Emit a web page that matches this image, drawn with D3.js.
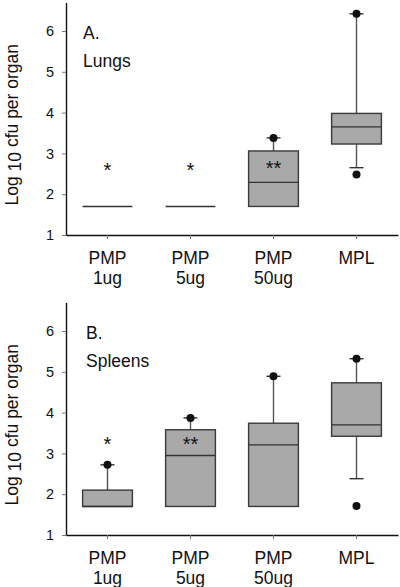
<!DOCTYPE html>
<html>
<head>
<meta charset="utf-8">
<script src="https://cdn.jsdelivr.net/npm/d3@7"></script>
<style>
  html, body { margin: 0; padding: 0; background: #fff; }
  svg { display: block; }
  text { font-family: Arial, "Liberation Sans", sans-serif; fill: #111; }
</style>
</head>
<body>
<svg id="chart" width="400" height="587"></svg>
<script>
// ---------- data ----------
const groups = ["PMP 1ug", "PMP 5ug", "PMP 50ug", "MPL"];
const tickLine1 = ["PMP", "PMP", "PMP", "MPL"];
const tickLine2 = ["1ug", "5ug", "50ug", ""];
const yTicks = [1, 2, 3, 4, 5, 6];

// Lungs (panel A)
const lungsQ1      = [1.7, 1.7, 1.7, 3.23];
const lungsMedian  = [1.7, 1.7, 2.29, 3.65];
const lungsQ3      = [1.7, 1.7, 3.06, 3.98];
const lungsWhiskLo = [1.7, 1.7, 1.7, 2.65];
const lungsWhiskHi = [1.7, 1.7, 3.38, 6.42];
const lungsOutliers = [[], [], [3.38], [6.42, 2.48]];
const lungsStars = ["*", "*", "**", ""];
const lungsStarPos = [2.65, 2.65, 2.68, 0];

// Spleens (panel B)
const spleenQ1      = [1.7, 1.7, 1.7, 3.42];
const spleenMedian  = [1.7, 2.95, 3.21, 3.70];
const spleenQ3      = [2.1, 3.58, 3.74, 4.73];
const spleenWhiskLo = [1.7, 1.7, 1.7, 2.38];
const spleenWhiskHi = [2.72, 3.87, 4.89, 5.32];
const spleenOutliers = [[2.72], [3.87], [4.89], [5.32, 1.71]];
const spleenStars = ["*", "**", "", ""];
const spleenStarPos = [3.29, 3.29, 0, 0];

// ---------- drawing ----------
const svg = d3.select("#chart");
const x = d3.scaleBand().domain(groups).range([66, 398]).padding(0);
const boxW = x.step() * 0.6;
const capW = 14;

function panel(opt) {
  const y = d3.scaleLinear().domain([1, 6.7]).range([opt.bottom, opt.bottom - 5.7 * 40.8]);
  const g = svg.append("g");

  // y axis
  const ya = g.append("g").attr("transform", "translate(66,0)")
    .call(d3.axisLeft(y).tickValues(yTicks).tickFormat(d3.format("d")).tickSize(4).tickSizeOuter(0).tickPadding(8));
  ya.select(".domain").attr("stroke", "#111").attr("stroke-width", 1.4);
  ya.selectAll(".tick line").attr("stroke", "#777");
  ya.selectAll(".tick text").attr("font-size", 14.5).attr("font-family", "Arial, 'Liberation Sans', sans-serif").attr("fill", "#111");

  // x axis
  const xa = g.append("g").attr("transform", `translate(0,${y(1)})`)
    .call(d3.axisBottom(x).tickSize(4).tickSizeOuter(0).tickFormat(""));
  xa.select(".domain").attr("stroke", "#111").attr("stroke-width", 1.4);
  xa.selectAll(".tick line").attr("stroke", "#777");

  const lbl = g.append("g").selectAll("text").data(groups).join("text")
    .attr("x", d => x(d) + x.bandwidth() / 2)
    .attr("text-anchor", "middle")
    .attr("font-size", 17.5);
  lbl.append("tspan").attr("x", d => x(d) + x.bandwidth() / 2).attr("y", y(1) + 28.5).text((d, i) => tickLine1[i]);
  lbl.append("tspan").attr("x", d => x(d) + x.bandwidth() / 2).attr("y", y(1) + 49).text((d, i) => tickLine2[i]);

  // y label
  const ymid = (y(1) + y(6.7)) / 2 + 6;
  const yl = g.append("text").attr("transform", `translate(18,${ymid}) rotate(-90)`)
    .attr("text-anchor", "middle").attr("font-size", 17.5);
  yl.append("tspan").text("Log ");
  yl.append("tspan").attr("dy", 3).text("10");
  yl.append("tspan").attr("dy", -3).text(" cfu per organ");

  // panel labels
  g.append("text").attr("x", opt.lx).attr("y", opt.bottom - 196).attr("font-size", 17.5).text(opt.letter);
  g.append("text").attr("x", opt.lx).attr("y", opt.bottom - 168.5).attr("font-size", 17.5).text(opt.name);

  const data = groups.map((gname, i) => ({
    g: gname, q1: opt.q1[i], med: opt.med[i], q3: opt.q3[i],
    lo: opt.lo[i], hi: opt.hi[i], out: opt.out[i], star: opt.stars[i], sp: opt.starPos[i]
  }));

  const bx = g.append("g").selectAll("g").data(data).join("g")
    .attr("transform", d => `translate(${x(d.g) + x.bandwidth() / 2},0)`);

  // whiskers
  bx.filter(d => d.hi > d.q3).append("line")
    .attr("x1", 0).attr("x2", 0).attr("y1", d => y(d.q3)).attr("y2", d => y(d.hi))
    .attr("stroke", "#555").attr("stroke-width", 1.4);
  bx.filter(d => d.hi > d.q3).append("line")
    .attr("x1", -capW / 2).attr("x2", capW / 2).attr("y1", d => y(d.hi)).attr("y2", d => y(d.hi))
    .attr("stroke", "#333").attr("stroke-width", 1.4);
  bx.filter(d => d.lo < d.q1).append("line")
    .attr("x1", 0).attr("x2", 0).attr("y1", d => y(d.q1)).attr("y2", d => y(d.lo))
    .attr("stroke", "#555").attr("stroke-width", 1.4);
  bx.filter(d => d.lo < d.q1).append("line")
    .attr("x1", -capW / 2).attr("x2", capW / 2).attr("y1", d => y(d.lo)).attr("y2", d => y(d.lo))
    .attr("stroke", "#333").attr("stroke-width", 1.4);

  // boxes
  bx.filter(d => d.q3 > d.q1).append("rect")
    .attr("x", -boxW / 2).attr("width", boxW)
    .attr("y", d => y(d.q3)).attr("height", d => y(d.q1) - y(d.q3))
    .attr("fill", "#a9a9a9").attr("stroke", "#3a3a3a").attr("stroke-width", 1.4);
  // median
  bx.append("line")
    .attr("x1", -boxW / 2).attr("x2", boxW / 2)
    .attr("y1", d => y(d.med)).attr("y2", d => y(d.med))
    .attr("stroke", "#333").attr("stroke-width", 1.4);

  // outliers
  bx.selectAll("circle").data(d => d.out).join("circle")
    .attr("cx", 0).attr("cy", v => y(v)).attr("r", 4).attr("fill", "#111");

  // stars
  bx.filter(d => d.star).append("text")
    .attr("text-anchor", "middle").attr("font-size", 20)
    .attr("y", d => y(d.sp) + 9).text(d => d.star);
}

panel({ bottom: 235, letter: "A.", name: "Lungs", lx: 83,
  q1: lungsQ1, med: lungsMedian, q3: lungsQ3, lo: lungsWhiskLo, hi: lungsWhiskHi,
  out: lungsOutliers, stars: lungsStars, starPos: lungsStarPos });
panel({ bottom: 535, letter: "B.", name: "Spleens", lx: 86,
  q1: spleenQ1, med: spleenMedian, q3: spleenQ3, lo: spleenWhiskLo, hi: spleenWhiskHi,
  out: spleenOutliers, stars: spleenStars, starPos: spleenStarPos });
</script>
</body>
</html>
